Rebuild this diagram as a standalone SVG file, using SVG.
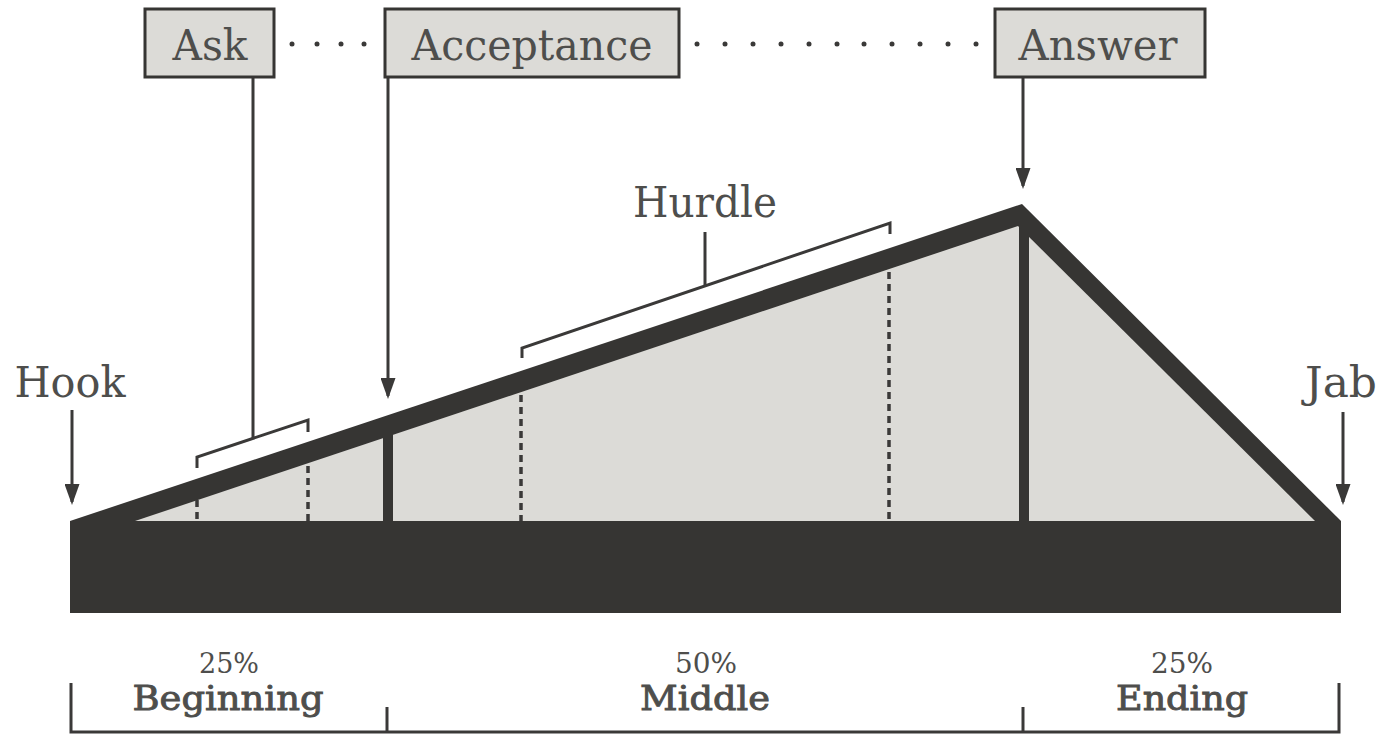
<svg xmlns="http://www.w3.org/2000/svg" width="1381" height="735" viewBox="0 0 1381 735">
<defs>
<style>
.lbl{font-family:"DejaVu Serif","Liberation Serif",serif;fill:#4e4e4c;text-anchor:middle}
.big{font-size:42px}
.pct{font-size:27px}
.sec{font-size:34px;stroke:#4e4e4c;stroke-width:0.9}
.box{fill:#dcdbd7;stroke:#363533;stroke-width:3}
.ln{stroke:#3a3938;stroke-width:3;fill:none}
.dash{stroke:#3a3938;stroke-width:3.5;stroke-dasharray:7 5;fill:none}
.dot{fill:#3a3938}
</style>
<marker id="ah" markerWidth="7" markerHeight="5" refX="6" refY="2.5" orient="auto" markerUnits="strokeWidth">
<path d="M0,0 L7,2.5 L0,5 Z" fill="#3a3938"/>
</marker>
</defs>
<rect width="1381" height="735" fill="#ffffff"/>

<g id="shape">
<polygon points="70,521 1022,204 1341,521 1341,613 70,613" fill="#363533"/>
<polygon points="135,521 1018,226 1315,521" fill="#dcdbd7"/>
<rect x="1019" y="212" width="10" height="310" fill="#363533"/>
<rect x="383" y="425" width="10" height="97" fill="#363533"/>
</g>

<g id="connectors">
<line class="dash" x1="197" y1="500" x2="197" y2="521"/>
<line class="dash" x1="308" y1="466" x2="308" y2="521"/>
<line class="dash" x1="521" y1="395" x2="521" y2="521"/>
<line class="dash" x1="889" y1="272" x2="889" y2="521"/>
<polyline class="ln" points="197,468 197,457 308,420 308,432"/>
<line class="ln" x1="253" y1="77" x2="253" y2="438"/>
<polyline class="ln" points="522,358 522,348 890,223 890,234"/>
<line class="ln" x1="705" y1="232" x2="705" y2="286"/>
<line class="ln" x1="388" y1="77" x2="388" y2="396" marker-end="url(#ah)"/>
<line class="ln" x1="1023" y1="77" x2="1023" y2="186" marker-end="url(#ah)"/>
<line class="ln" x1="72" y1="410" x2="72" y2="502" marker-end="url(#ah)"/>
<line class="ln" x1="1343" y1="412" x2="1343" y2="502" marker-end="url(#ah)"/>
<g id="dots">
<circle class="dot" cx="292" cy="44" r="2.5"/>
<circle class="dot" cx="317" cy="44" r="2.5"/>
<circle class="dot" cx="341" cy="44" r="2.5"/>
<circle class="dot" cx="364" cy="44" r="2.5"/>
<circle class="dot" cx="697" cy="44" r="2.5"/>
<circle class="dot" cx="725" cy="44" r="2.5"/>
<circle class="dot" cx="753" cy="44" r="2.5"/>
<circle class="dot" cx="781" cy="44" r="2.5"/>
<circle class="dot" cx="809" cy="44" r="2.5"/>
<circle class="dot" cx="837" cy="44" r="2.5"/>
<circle class="dot" cx="864" cy="44" r="2.5"/>
<circle class="dot" cx="892" cy="44" r="2.5"/>
<circle class="dot" cx="920" cy="44" r="2.5"/>
<circle class="dot" cx="948" cy="44" r="2.5"/>
<circle class="dot" cx="976" cy="44" r="2.5"/>
</g>
<polyline class="ln" points="71,683 71,732 1339,732 1339,683"/>
<line class="ln" x1="387" y1="707" x2="387" y2="732"/>
<line class="ln" x1="1023" y1="707" x2="1023" y2="732"/>
</g>

<g id="ask">
<rect class="box" x="145" y="9" width="129" height="68"/>
<text class="lbl big" x="210" y="60" textLength="75" lengthAdjust="spacingAndGlyphs">Ask</text>
</g>
<g id="acceptance">
<rect class="box" x="385" y="9" width="294" height="68"/>
<text class="lbl big" x="532" y="60" textLength="241" lengthAdjust="spacingAndGlyphs">Acceptance</text>
</g>
<g id="answer">
<rect class="box" x="995" y="9" width="210" height="68"/>
<text class="lbl big" x="1098" y="60" textLength="159" lengthAdjust="spacingAndGlyphs">Answer</text>
</g>
<g id="hook">
<text class="lbl big" x="70" y="397" textLength="111" lengthAdjust="spacingAndGlyphs">Hook</text>
</g>
<g id="jab">
<text class="lbl big" x="1341" y="397" textLength="72" lengthAdjust="spacingAndGlyphs">Jab</text>
</g>
<g id="hurdle">
<text class="lbl big" x="705" y="217" textLength="144" lengthAdjust="spacingAndGlyphs">Hurdle</text>
</g>
<g id="beginning">
<text class="lbl pct" x="229" y="673" textLength="60" lengthAdjust="spacingAndGlyphs">25%</text>
<text class="lbl sec" x="228" y="710" textLength="191" lengthAdjust="spacingAndGlyphs">Beginning</text>
</g>
<g id="middle">
<text class="lbl pct" x="706" y="673" textLength="62" lengthAdjust="spacingAndGlyphs">50%</text>
<text class="lbl sec" x="705" y="710" textLength="130" lengthAdjust="spacingAndGlyphs">Middle</text>
</g>
<g id="ending">
<text class="lbl pct" x="1182" y="673" textLength="62" lengthAdjust="spacingAndGlyphs">25%</text>
<text class="lbl sec" x="1182" y="710" textLength="132" lengthAdjust="spacingAndGlyphs">Ending</text>
</g>
</svg>
